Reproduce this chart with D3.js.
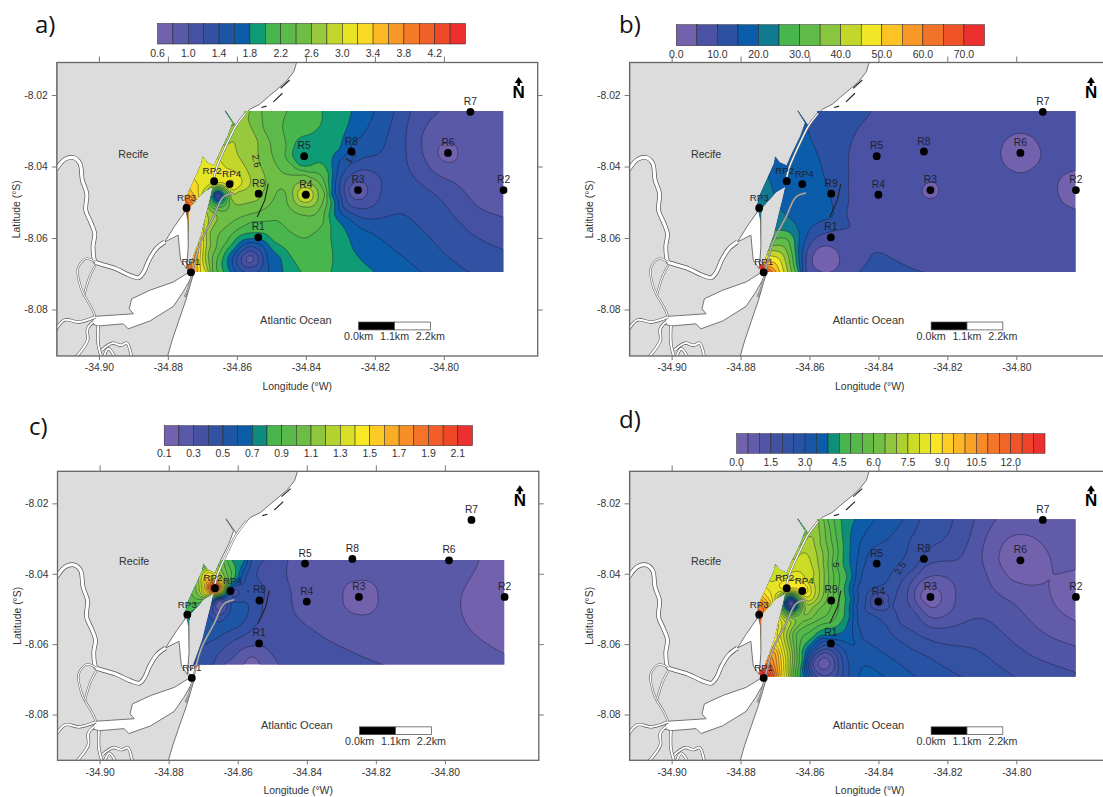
<!DOCTYPE html>
<html>
<head>
<meta charset="utf-8">
<script src="https://cdn.jsdelivr.net/npm/d3@7"></script>
<style>
  html, body { margin: 0; padding: 0; background: #fff; }
  svg { display: block; }
  text { font-family: "Liberation Sans", Arial, sans-serif; fill: #333; }
</style>
</head>
<body>
<div id="chart"></div>
<script>
'use strict';

// axis ticks
const lonTicks = [-34.90, -34.88, -34.86, -34.84, -34.82, -34.80];
const latTicks = [-8.02, -8.04, -8.06, -8.08];

// sampling stations
const stationNames = ['R1', 'R2', 'R3', 'R4', 'R5', 'R6', 'R7', 'R8', 'R9', 'RP1', 'RP2', 'RP3', 'RP4'];
const stationLon = [-34.8538, -34.7827, -34.8249, -34.8400, -34.8405, -34.7988, -34.7923, -34.8268, -34.8537, -34.8733, -34.8666, -34.8746, -34.8621];
const stationLat = [-8.0598, -8.0466, -8.0466, -8.0479, -8.0371, -8.0362, -8.0247, -8.0358, -8.0476, -8.0696, -8.0441, -8.0516, -8.0449];

// base map, lon/lat
const landOutline = [[-34.9122,-8.0109],[-34.8427,-8.0109],[-34.8435,-8.0135],[-34.8458,-8.0163],[-34.8483,-8.0184],[-34.8509,-8.0205],[-34.8534,-8.0226],[-34.8563,-8.0240],[-34.8578,-8.0256],[-34.8595,-8.0275],[-34.8603,-8.0287],[-34.8634,-8.0244],[-34.8612,-8.0278],[-34.8626,-8.0315],[-34.8651,-8.0365],[-34.8666,-8.0398],[-34.8687,-8.0389],[-34.8699,-8.0373],[-34.8702,-8.0391],[-34.8715,-8.0419],[-34.8733,-8.0457],[-34.8746,-8.0485],[-34.8753,-8.0518],[-34.8744,-8.0681],[-34.8726,-8.0700],[-34.8748,-8.0774],[-34.8768,-8.0830],[-34.8788,-8.0887],[-34.8801,-8.0931],[-34.9122,-8.0931]];
const islandOutline = [[-34.8669,-8.0455],[-34.8697,-8.0471],[-34.8736,-8.0513],[-34.8741,-8.0532],[-34.8742,-8.0620],[-34.8745,-8.0662],[-34.8734,-8.0674],[-34.8726,-8.0653],[-34.8702,-8.0588],[-34.8688,-8.0532],[-34.8676,-8.0485]];
const estuaryUpper = [[-34.8748,-8.0522],[-34.8782,-8.0569],[-34.8809,-8.0611],[-34.8770,-8.0592],[-34.8767,-8.0625],[-34.8763,-8.0662],[-34.8746,-8.0686],[-34.8741,-8.0625],[-34.8742,-8.0550]];
const estuaryLower = [[-34.8726,-8.0700],[-34.8746,-8.0700],[-34.8784,-8.0723],[-34.8852,-8.0746],[-34.8905,-8.0770],[-34.8912,-8.0798],[-34.8900,-8.0812],[-34.9011,-8.0819],[-34.9023,-8.0840],[-34.9002,-8.0846],[-34.8929,-8.0840],[-34.8915,-8.0854],[-34.8852,-8.0832],[-34.8784,-8.0791],[-34.8756,-8.0751]];
const riverMain = [[-34.8809,-8.0611],[-34.8834,-8.0630],[-34.8855,-8.0662],[-34.8870,-8.0695],[-34.8885,-8.0711],[-34.8911,-8.0704],[-34.8951,-8.0686],[-34.8997,-8.0672],[-34.9010,-8.0667],[-34.9017,-8.0625],[-34.9012,-8.0588],[-34.9024,-8.0555],[-34.9038,-8.0522],[-34.9035,-8.0476],[-34.9048,-8.0438],[-34.9055,-8.0391],[-34.9073,-8.0375],[-34.9099,-8.0380],[-34.9125,-8.0410]];
const riverSide = [
  [[-34.9010,-8.0676],[-34.9027,-8.0709],[-34.9043,-8.0760]],
  [[-34.9010,-8.0667],[-34.9038,-8.0658],[-34.9061,-8.0686],[-34.9053,-8.0737],[-34.9043,-8.0760]],
  [[-34.9043,-8.0760],[-34.9020,-8.0798],[-34.9011,-8.0819]]
];
const riverLower = [
  [[-34.9011,-8.0821],[-34.9058,-8.0835],[-34.9099,-8.0829],[-34.9125,-8.0856]],
  [[-34.9017,-8.0835],[-34.9033,-8.0854],[-34.9033,-8.0887],[-34.9068,-8.0935]],
  [[-34.9002,-8.0846],[-34.9002,-8.0896],[-34.8992,-8.0935]],
  [[-34.8992,-8.0914],[-34.8961,-8.0894],[-34.8936,-8.0900],[-34.8919,-8.0894],[-34.8905,-8.0935]],
  [[-34.8987,-8.0935],[-34.8972,-8.0910],[-34.8953,-8.0935]]
];
const isthmusLine = [[-34.8575,-8.0251],[-34.8603,-8.0287],[-34.8626,-8.0331],[-34.8646,-8.0373],[-34.8658,-8.0401],[-34.8666,-8.0429]];
const reefLine = [[-34.8610,-8.0474],[-34.8639,-8.0485],[-34.8668,-8.0541],[-34.8707,-8.0616],[-34.8741,-8.0742],[-34.8751,-8.0765]];
const breakwaters = [
  [[-34.8447,-8.0158],[-34.8473,-8.0181]],
  [[-34.8468,-8.0195],[-34.8494,-8.0219]],
  [[-34.8514,-8.0231],[-34.8529,-8.0235]],
  [[-34.8509,-8.0448],[-34.8519,-8.0494],[-34.8541,-8.0541]]
];
const waterOutline = [[-34.8577,-8.0240],[-34.7800,-8.0240],[-34.7800,-8.0710],[-34.8738,-8.0710],[-34.8747,-8.0672],[-34.8734,-8.0674],[-34.8726,-8.0653],[-34.8702,-8.0588],[-34.8688,-8.0532],[-34.8676,-8.0485],[-34.8669,-8.0455],[-34.8697,-8.0471],[-34.8736,-8.0513],[-34.8741,-8.0532],[-34.8742,-8.0620],[-34.8748,-8.0620],[-34.8750,-8.0532],[-34.8753,-8.0518],[-34.8746,-8.0485],[-34.8733,-8.0457],[-34.8715,-8.0419],[-34.8702,-8.0391],[-34.8699,-8.0373],[-34.8687,-8.0389],[-34.8666,-8.0398],[-34.8651,-8.0365],[-34.8626,-8.0315],[-34.8612,-8.0278],[-34.8634,-8.0244],[-34.8603,-8.0287],[-34.8595,-8.0275],[-34.8578,-8.0256]];

// colour bars
const legendMinA = 0.6, legendStepA = 0.2, legendCellsA = 20, legendBlueA = 6;
const legendTicksA = [0.6, 1.0, 1.4, 1.8, 2.2, 2.6, 3.0, 3.4, 3.8, 4.2];
const legendMinB = 0, legendStepB = 5, legendCellsB = 15, legendBlueB = 4;
const legendTicksB = [0, 10, 20, 30, 40, 50, 60, 70];
const legendMinC = 0.1, legendStepC = 0.1, legendCellsC = 21, legendBlueC = 6;
const legendTicksC = [0.1, 0.3, 0.5, 0.7, 0.9, 1.1, 1.3, 1.5, 1.7, 1.9, 2.1];
const legendMinD = 0, legendStepD = 0.5, legendCellsD = 27, legendBlueD = 8;
const legendTicksD = [0, 1.5, 3, 4.5, 6, 7.5, 9, 10.5, 12];

// field samples [lon, lat, value], read along the contour lines of each map
const fieldA = [
[-34.8577,-8.0245,2.65],[-34.8528,-8.0245,2.4],[-34.8455,-8.0245,2.2],[-34.8353,-8.0245,2.0],[-34.8268,-8.0245,1.8],[-34.8202,-8.0245,1.6],[-34.8144,-8.0245,1.4],[-34.8096,-8.0245,1.2],[-34.8012,-8.0245,1.0],[-34.7924,-8.0245,0.92],[-34.7830,-8.0245,0.88],
[-34.7830,-8.0354,0.85],[-34.7830,-8.0466,0.85],[-34.7830,-8.0541,1.0],[-34.7830,-8.0632,1.2],[-34.7830,-8.0695,1.33],
[-34.7988,-8.0362,0.72],[-34.8017,-8.0362,0.8],[-34.7960,-8.0362,0.8],[-34.7988,-8.0335,0.8],[-34.7988,-8.0388,0.8],
[-34.8062,-8.0312,1.0],[-34.8051,-8.0387,1.0],[-34.7974,-8.0443,1.0],[-34.7907,-8.0508,1.0],
[-34.8110,-8.0350,1.2],[-34.8101,-8.0406,1.2],[-34.8023,-8.0480,1.2],[-34.7955,-8.0555,1.2],[-34.7857,-8.0621,1.2],
[-34.8163,-8.0312,1.4],[-34.8197,-8.0368,1.4],[-34.8255,-8.0387,1.4],[-34.8289,-8.0415,1.4],[-34.8302,-8.0457,1.4],[-34.8294,-8.0508,1.4],[-34.8245,-8.0541,1.4],[-34.8135,-8.0532,1.4],[-34.8081,-8.0560,1.4],[-34.8003,-8.0639,1.4],[-34.7926,-8.0695,1.4],
[-34.8217,-8.0284,1.6],[-34.8270,-8.0345,1.6],[-34.8303,-8.0387,1.6],[-34.8314,-8.0443,1.6],[-34.8306,-8.0494,1.6],[-34.8275,-8.0546,1.6],[-34.8217,-8.0583,1.6],[-34.8148,-8.0630,1.6],[-34.8066,-8.0695,1.6],
[-34.8303,-8.0350,1.8],[-34.8323,-8.0415,1.8],[-34.8325,-8.0480,1.8],[-34.8303,-8.0555,1.8],[-34.8264,-8.0630,1.8],[-34.8202,-8.0695,1.8],
[-34.8250,-8.0466,0.88],[-34.8275,-8.0466,1.0],[-34.8221,-8.0466,1.0],[-34.8250,-8.0443,1.0],[-34.8250,-8.0492,1.0],[-34.8289,-8.0466,1.2],[-34.8182,-8.0466,1.2],[-34.8241,-8.0410,1.2],[-34.8241,-8.0518,1.2],
[-34.8358,-8.0284,2.0],[-34.8394,-8.0312,2.0],[-34.8429,-8.0331,2.0],[-34.8439,-8.0368,2.0],[-34.8419,-8.0396,2.0],[-34.8368,-8.0390,2.0],[-34.8348,-8.0396,2.0],[-34.8335,-8.0420,2.0],[-34.8328,-8.0494,2.0],[-34.8328,-8.0588,2.0],[-34.8328,-8.0695,2.0],[-34.8407,-8.0371,1.82],
[-34.8310,-8.0290,1.9],[-34.8345,-8.0345,1.9],[-34.8420,-8.0350,1.9],[-34.8380,-8.0370,1.9],[-34.8370,-8.0340,1.9],[-34.8327,-8.0540,1.92],[-34.8290,-8.0650,1.9],
[-34.8467,-8.0293,2.2],[-34.8457,-8.0345,2.2],[-34.8439,-8.0396,2.2],[-34.8394,-8.0415,2.2],[-34.8353,-8.0429,2.2],[-34.8339,-8.0485,2.2],[-34.8348,-8.0551,2.2],[-34.8373,-8.0583,2.2],[-34.8414,-8.0599,2.2],[-34.8485,-8.0551,2.2],[-34.8556,-8.0555,2.2],[-34.8602,-8.0579,2.2],[-34.8633,-8.0616,2.2],[-34.8656,-8.0695,2.2],
[-34.8521,-8.0298,2.4],[-34.8500,-8.0359,2.4],[-34.8475,-8.0410,2.4],[-34.8480,-8.0466,2.4],[-34.8506,-8.0508,2.4],[-34.8556,-8.0532,2.4],[-34.8607,-8.0551,2.4],[-34.8643,-8.0579,2.4],[-34.8663,-8.0635,2.4],[-34.8670,-8.0695,2.4],
[-34.8402,-8.0479,3.1],[-34.8424,-8.0479,2.8],[-34.8379,-8.0479,2.8],[-34.8402,-8.0459,2.8],[-34.8402,-8.0500,2.8],[-34.8438,-8.0479,2.6],[-34.8365,-8.0479,2.6],[-34.8402,-8.0446,2.6],[-34.8402,-8.0513,2.6],[-34.8457,-8.0479,2.4],[-34.8345,-8.0479,2.4],[-34.8402,-8.0424,2.4],[-34.8402,-8.0537,2.4],
[-34.8566,-8.0256,2.6],[-34.8541,-8.0326,2.6],[-34.8536,-8.0382,2.6],[-34.8516,-8.0448,2.6],[-34.8541,-8.0494,2.6],[-34.8582,-8.0505,2.6],[-34.8617,-8.0487,2.6],[-34.8663,-8.0532,2.6],[-34.8678,-8.0588,2.6],[-34.8683,-8.0644,2.6],[-34.8678,-8.0695,2.6],
[-34.8617,-8.0307,2.75],[-34.8638,-8.0340,2.8],[-34.8597,-8.0368,2.8],[-34.8566,-8.0420,2.8],[-34.8566,-8.0457,2.8],[-34.8597,-8.0471,2.8],
[-34.8627,-8.0406,3.0],[-34.8597,-8.0420,3.0],[-34.8589,-8.0452,3.0],[-34.8612,-8.0466,3.0],[-34.8622,-8.0450,3.15],
[-34.8656,-8.0478,1.0],[-34.8648,-8.0478,1.4],[-34.8640,-8.0478,1.8],[-34.8629,-8.0478,2.2],[-34.8656,-8.0489,1.4],[-34.8656,-8.0500,1.8],[-34.8656,-8.0513,2.2],[-34.8662,-8.0478,1.4],[-34.8668,-8.0478,1.8],[-34.8676,-8.0478,2.2],[-34.8686,-8.0478,2.6],[-34.8656,-8.0469,1.8],[-34.8656,-8.0462,2.2],[-34.8656,-8.0452,2.8],
[-34.8667,-8.0441,3.1],[-34.8650,-8.0436,3.1],[-34.8640,-8.0425,3.1],[-34.8695,-8.0450,3.15],[-34.8700,-8.0415,3.1],[-34.8720,-8.0440,3.2],
[-34.8687,-8.0532,2.8],[-34.8697,-8.0588,3.0],[-34.8709,-8.0644,3.3],[-34.8724,-8.0672,3.6],
[-34.8683,-8.0695,2.8],[-34.8689,-8.0695,3.0],[-34.8706,-8.0695,3.2],[-34.8713,-8.0695,3.4],[-34.8724,-8.0695,3.6],[-34.8733,-8.0695,3.8],
[-34.8687,-8.0401,3.1],[-34.8678,-8.0429,3.1],[-34.8709,-8.0438,3.15],[-34.8724,-8.0466,3.3],[-34.8739,-8.0480,3.6],[-34.8733,-8.0504,3.9],[-34.8748,-8.0513,4.2],[-34.8746,-8.0569,4.3],[-34.8745,-8.0616,4.4],
[-34.8636,-8.0250,2.2],[-34.8610,-8.0277,2.55],[-34.8666,-8.0382,3.05],
[-34.8562,-8.0660,0.9],[-34.8587,-8.0660,1.2],[-34.8538,-8.0660,1.2],[-34.8562,-8.0637,1.2],[-34.8562,-8.0682,1.2],[-34.8601,-8.0660,1.4],[-34.8524,-8.0660,1.4],[-34.8562,-8.0624,1.4],[-34.8613,-8.0660,1.6],[-34.8512,-8.0660,1.6],[-34.8562,-8.0613,1.6],
[-34.8467,-8.0695,1.8],[-34.8475,-8.0653,1.8],[-34.8516,-8.0611,1.8],[-34.8561,-8.0602,1.8],[-34.8607,-8.0630,1.8],[-34.8619,-8.0695,1.8],
[-34.8414,-8.0695,2.0],[-34.8445,-8.0649,2.0],[-34.8495,-8.0607,2.0],[-34.8546,-8.0585,2.0],[-34.8597,-8.0597,2.0],[-34.8627,-8.0630,2.0],[-34.8638,-8.0695,2.0],[-34.8373,-8.0663,2.12]
];
const fieldB = [
[-34.8272,-8.0260,7],[-34.8069,-8.0260,7],[-34.7790,-8.0260,7],[-34.8170,-8.0597,7.5],[-34.7970,-8.0660,7.5],[-34.7790,-8.0660,7],[-34.8069,-8.0466,7],[-34.7790,-8.0345,7],[-34.8310,-8.0401,7],[-34.8320,-8.0541,7],
[-34.7988,-8.0362,4],[-34.8045,-8.0362,5],[-34.7928,-8.0362,5],[-34.7988,-8.0307,5],[-34.7988,-8.0418,5],
[-34.7948,-8.0323,5],[-34.8028,-8.0323,5],[-34.7948,-8.0401,5],[-34.8028,-8.0401,5],
[-34.8073,-8.0362,6.3],[-34.7903,-8.0362,6.3],[-34.7988,-8.0280,6.3],[-34.7988,-8.0445,6.3],
[-34.8249,-8.0466,4.6],[-34.8273,-8.0466,5],[-34.8225,-8.0466,5],[-34.8249,-8.0444,5],[-34.8249,-8.0489,5],
[-34.7830,-8.0466,4],[-34.7880,-8.0461,5],[-34.7855,-8.0420,5],[-34.7855,-8.0508,5],[-34.7830,-8.0411,5],[-34.7830,-8.0518,5],
[-34.8552,-8.0660,4],[-34.8592,-8.0660,5],[-34.8512,-8.0660,5],[-34.8552,-8.0622,5],[-34.8552,-8.0697,5],
[-34.8524,-8.0633,5],[-34.8580,-8.0633,5],[-34.8524,-8.0687,5],[-34.8580,-8.0687,5],
[-34.8421,-8.0245,10],[-34.8467,-8.0307,10],[-34.8487,-8.0373,10],[-34.8487,-8.0457,10],[-34.8492,-8.0532,10],[-34.8484,-8.0569,10],[-34.8522,-8.0579,10],[-34.8577,-8.0597,10],[-34.8602,-8.0625,10],[-34.8610,-8.0663,10],[-34.8607,-8.0695,10],
[-34.8455,-8.0695,10],[-34.8416,-8.0644,10],[-34.8361,-8.0657,10],[-34.8271,-8.0695,10],[-34.8391,-8.0690,11],
[-34.8607,-8.0289,15],[-34.8577,-8.0364,15],[-34.8547,-8.0457,15],[-34.8532,-8.0537,15],[-34.8597,-8.0574,15],[-34.8619,-8.0625,15],[-34.8620,-8.0695,15],
[-34.8522,-8.0250,12],[-34.8572,-8.0250,14],
[-34.8687,-8.0513,20],[-34.8642,-8.0560,20],[-34.8630,-8.0616,20],[-34.8626,-8.0695,20],
[-34.8622,-8.0401,17],[-34.8672,-8.0457,18],[-34.8697,-8.0373,17],[-34.8632,-8.0298,17],
[-34.8732,-8.0457,22],[-34.8744,-8.0532,24],[-34.8744,-8.0569,27],[-34.8743,-8.0597,32],[-34.8742,-8.0621,38],
[-34.8690,-8.0579,25],[-34.8662,-8.0583,25],[-34.8642,-8.0635,25],[-34.8632,-8.0695,25],
[-34.8697,-8.0602,30],[-34.8667,-8.0602,30],[-34.8650,-8.0649,30],[-34.8641,-8.0695,30],
[-34.8704,-8.0621,35],[-34.8674,-8.0625,35],[-34.8652,-8.0695,35],
[-34.8710,-8.0635,40],[-34.8682,-8.0642,40],[-34.8663,-8.0695,40],
[-34.8716,-8.0649,45],[-34.8692,-8.0655,45],[-34.8674,-8.0695,45],
[-34.8722,-8.0663,50],[-34.8702,-8.0668,50],[-34.8686,-8.0695,50],
[-34.8722,-8.0677,55],[-34.8697,-8.0695,55],
[-34.8730,-8.0677,60],[-34.8708,-8.0695,60],
[-34.8719,-8.0695,66],[-34.8730,-8.0695,70],[-34.8742,-8.0681,74]
];
const fieldC = [
[-34.8250,-8.0465,0.14],[-34.8295,-8.0465,0.2],[-34.8194,-8.0465,0.2],[-34.8250,-8.0420,0.2],[-34.8250,-8.0516,0.2],
[-34.7901,-8.0361,0.2],[-34.7952,-8.0464,0.2],[-34.7927,-8.0558,0.2],[-34.7830,-8.0626,0.2],[-34.7830,-8.0464,0.13],[-34.7845,-8.0361,0.15],
[-34.8454,-8.0361,0.3],[-34.8445,-8.0455,0.3],[-34.8435,-8.0511,0.3],[-34.8384,-8.0558,0.3],[-34.8283,-8.0615,0.3],[-34.8181,-8.0658,0.3],
[-34.8323,-8.0361,0.25],[-34.8069,-8.0361,0.24],[-34.8069,-8.0521,0.24],[-34.8374,-8.0455,0.24],[-34.8018,-8.0653,0.27],[-34.7830,-8.0658,0.22],
[-34.8481,-8.0658,0.3],[-34.8506,-8.0624,0.3],[-34.8559,-8.0606,0.3],[-34.8613,-8.0639,0.3],[-34.8639,-8.0658,0.3],
[-34.8583,-8.0658,0.2],[-34.8559,-8.0636,0.2],[-34.8535,-8.0658,0.2],[-34.8559,-8.0658,0.17],
[-34.8522,-8.0361,0.4],[-34.8525,-8.0441,0.4],[-34.8528,-8.0488,0.4],[-34.8555,-8.0554,0.4],[-34.8613,-8.0591,0.4],[-34.8671,-8.0657,0.4],[-34.8486,-8.0568,0.34],
[-34.8560,-8.0361,0.5],[-34.8575,-8.0403,0.5],[-34.8620,-8.0448,0.45],[-34.8575,-8.0448,0.5],[-34.8620,-8.0483,0.5],
[-34.8628,-8.0521,0.52],[-34.8669,-8.0549,0.55],[-34.8700,-8.0606,0.5],[-34.8715,-8.0653,0.48],[-34.8674,-8.0483,0.55],[-34.8657,-8.0474,0.38],
[-34.8667,-8.0441,2.15],[-34.8654,-8.0450,1.6],[-34.8644,-8.0459,0.9],[-34.8639,-8.0436,1.3],[-34.8651,-8.0412,1.3],
[-34.8618,-8.0361,0.8],[-34.8580,-8.0361,0.7],[-34.8572,-8.0361,0.6],[-34.8644,-8.0361,1.0],[-34.8608,-8.0408,0.8],[-34.8628,-8.0422,1.0],
[-34.8679,-8.0422,1.7],[-34.8689,-8.0398,1.4],[-34.8700,-8.0375,1.0],[-34.8705,-8.0436,1.3],[-34.8725,-8.0469,1.0],[-34.8739,-8.0497,0.85],[-34.8742,-8.0549,0.7],[-34.8744,-8.0610,0.6]
];
const fieldD = [
[-34.7987,-8.0361,0.3],[-34.8050,-8.0361,0.5],[-34.8019,-8.0413,0.5],[-34.7971,-8.0431,0.5],[-34.7908,-8.0417,0.5],[-34.7894,-8.0398,0.5],[-34.7913,-8.0332,0.5],[-34.7971,-8.0290,0.5],[-34.8029,-8.0304,0.5],[-34.7826,-8.0387,0.5],[-34.7884,-8.0493,0.5],[-34.7826,-8.0535,0.5],[-34.7826,-8.0464,0.3],
[-34.7826,-8.0245,0.75],[-34.7923,-8.0245,0.7],
[-34.8058,-8.0245,1.0],[-34.8096,-8.0323,1.0],[-34.8087,-8.0398,1.0],[-34.8010,-8.0483,1.0],[-34.7932,-8.0559,1.0],[-34.7826,-8.0606,1.0],
[-34.8121,-8.0245,1.5],[-34.8135,-8.0295,1.5],[-34.8174,-8.0361,1.5],[-34.8270,-8.0384,1.5],[-34.8314,-8.0446,1.5],[-34.8290,-8.0512,1.5],[-34.8212,-8.0554,1.5],[-34.8111,-8.0526,1.5],[-34.8039,-8.0568,1.5],[-34.7952,-8.0634,1.5],[-34.7826,-8.0682,1.5],
[-34.8249,-8.0464,0.3],[-34.8278,-8.0464,0.5],[-34.8217,-8.0464,0.5],[-34.8249,-8.0436,0.5],[-34.8249,-8.0495,0.5],[-34.8295,-8.0464,1.0],[-34.8176,-8.0464,1.0],[-34.8249,-8.0408,1.0],[-34.8249,-8.0523,1.0],
[-34.8183,-8.0245,2.0],[-34.8212,-8.0304,2.0],[-34.8290,-8.0379,2.0],[-34.8338,-8.0431,2.0],[-34.8357,-8.0483,2.0],[-34.8338,-8.0540,2.0],[-34.8222,-8.0597,2.0],[-34.8116,-8.0615,2.0],[-34.8005,-8.0691,2.0],
[-34.8280,-8.0245,2.5],[-34.8308,-8.0304,2.5],[-34.8347,-8.0379,2.5],[-34.8386,-8.0431,2.5],[-34.8419,-8.0446,2.5],[-34.8436,-8.0479,2.5],[-34.8419,-8.0516,2.5],[-34.8376,-8.0549,2.5],[-34.8337,-8.0592,2.5],[-34.8260,-8.0634,2.5],[-34.8163,-8.0691,2.5],
[-34.8398,-8.0479,1.2],[-34.8412,-8.0479,1.5],[-34.8385,-8.0479,1.5],[-34.8398,-8.0465,1.5],[-34.8398,-8.0492,1.5],[-34.8423,-8.0479,2.0],[-34.8373,-8.0479,2.0],[-34.8398,-8.0454,2.0],[-34.8398,-8.0503,2.0],
[-34.8328,-8.0245,3.0],[-34.8376,-8.0304,3.0],[-34.8429,-8.0342,3.0],[-34.8448,-8.0398,3.0],[-34.8461,-8.0446,3.0],[-34.8463,-8.0493,3.0],[-34.8461,-8.0531,3.0],[-34.8446,-8.0582,3.0],[-34.8386,-8.0625,3.0],[-34.8294,-8.0691,3.0],
[-34.8410,-8.0245,3.5],[-34.8442,-8.0290,3.5],[-34.8458,-8.0342,3.5],[-34.8466,-8.0408,3.5],[-34.8471,-8.0474,3.5],[-34.8474,-8.0531,3.5],[-34.8468,-8.0597,3.5],[-34.8458,-8.0691,3.5],
[-34.8468,-8.0245,4.0],[-34.8482,-8.0313,4.0],[-34.8477,-8.0408,4.0],[-34.8480,-8.0474,4.0],[-34.8484,-8.0521,4.0],[-34.8497,-8.0559,4.0],[-34.8550,-8.0576,4.0],[-34.8593,-8.0597,4.0],[-34.8613,-8.0634,4.0],[-34.8617,-8.0691,4.0],
[-34.8508,-8.0245,4.5],[-34.8506,-8.0276,4.5],[-34.8502,-8.0342,4.5],[-34.8492,-8.0408,4.5],[-34.8497,-8.0483,4.5],[-34.8511,-8.0540,4.5],[-34.8550,-8.0554,4.5],[-34.8593,-8.0582,4.5],[-34.8622,-8.0625,4.5],[-34.8627,-8.0691,4.5],
[-34.8558,-8.0655,0.8],[-34.8575,-8.0655,1.0],[-34.8540,-8.0655,1.0],[-34.8558,-8.0638,1.0],[-34.8558,-8.0672,1.0],[-34.8589,-8.0655,1.5],[-34.8527,-8.0655,1.5],[-34.8558,-8.0625,1.5],[-34.8596,-8.0655,2.0],[-34.8517,-8.0655,2.0],[-34.8558,-8.0615,2.0],[-34.8603,-8.0655,2.5],[-34.8504,-8.0655,2.5],[-34.8558,-8.0604,2.5],[-34.8608,-8.0655,3.0],[-34.8558,-8.0592,3.0],[-34.8487,-8.0655,3.0],[-34.8612,-8.0655,3.5],[-34.8558,-8.0583,3.5],
[-34.8635,-8.0691,5],[-34.8646,-8.0691,6],[-34.8656,-8.0691,7],[-34.8666,-8.0691,8],[-34.8680,-8.0691,9],[-34.8690,-8.0691,10],[-34.8700,-8.0691,11],[-34.8709,-8.0691,12],[-34.8724,-8.0691,13],[-34.8730,-8.0691,13.3],
[-34.8637,-8.0625,5.5],[-34.8656,-8.0625,7],[-34.8680,-8.0625,8.5],[-34.8700,-8.0625,10],
[-34.8637,-8.0568,5.5],[-34.8675,-8.0568,7.5],[-34.8690,-8.0592,8.5],[-34.8719,-8.0663,11.5],
[-34.8559,-8.0245,6.0],[-34.8548,-8.0245,5.5],[-34.8529,-8.0245,5.0],[-34.8574,-8.0247,6.5],
[-34.8521,-8.0304,5],[-34.8521,-8.0375,5],[-34.8516,-8.0446,5],[-34.8523,-8.0521,5],[-34.8545,-8.0540,5],[-34.8598,-8.0564,5],[-34.8622,-8.0582,5],
[-34.8531,-8.0332,5.5],[-34.8531,-8.0455,5.5],[-34.8555,-8.0521,5.5],[-34.8603,-8.0545,5.5],
[-34.8545,-8.0342,6],[-34.8545,-8.0436,6],[-34.8574,-8.0502,6],[-34.8617,-8.0535,6],
[-34.8569,-8.0313,6.5],[-34.8558,-8.0389,6.5],[-34.8558,-8.0446,6.5],[-34.8588,-8.0493,6.5],[-34.8617,-8.0512,6.5],
[-34.8603,-8.0295,7],[-34.8574,-8.0379,7],[-34.8571,-8.0446,7],[-34.8603,-8.0488,7],
[-34.8622,-8.0342,7.5],[-34.8587,-8.0398,7.5],[-34.8583,-8.0446,7.5],[-34.8608,-8.0476,7.5],
[-34.8608,-8.0422,8],[-34.8596,-8.0446,8],[-34.8613,-8.0464,8],[-34.8617,-8.0446,9],[-34.8666,-8.0439,9],[-34.8656,-8.0422,8.6],
[-34.8654,-8.0485,1.0],[-34.8644,-8.0485,2],[-34.8635,-8.0485,4],[-34.8625,-8.0485,5.5],[-34.8654,-8.0506,4],[-34.8654,-8.0519,6],[-34.8654,-8.0535,7],[-34.8675,-8.0485,4.5],[-34.8683,-8.0485,6],[-34.8690,-8.0493,7],[-34.8654,-8.0463,4.5],[-34.8654,-8.0455,6.5],
[-34.8685,-8.0389,7.8],[-34.8675,-8.0408,8],[-34.8704,-8.0422,8],[-34.8724,-8.0441,8.5],[-34.8733,-8.0469,9.5],[-34.8735,-8.0497,11],[-34.8743,-8.0521,11.5],[-34.8745,-8.0559,11],[-34.8743,-8.0597,9],
[-34.8637,-8.0247,5.5],[-34.8619,-8.0280,6],[-34.8642,-8.0332,7],[-34.8695,-8.0375,7.5]
];

// contour labels [text, lon, lat, rotation]
const contourLabelsA = [['2.6', -34.8543, -8.0384, 80], ['1.6', -34.8270, -8.0373, -55]];
const contourLabelsD = [['5', -34.8523, -8.0375, 90], ['2.5', -34.8337, -8.0384, -60]];

const lonDomain = [-34.9122, -34.7728];
const latDomain = [-8.0930, -8.0109];

const panels = [
  {id: 'a', letter: 'a)', letterX: 35, letterY: 33, left: 56.8, right: 537.7, top: 62.5, bottom: 356,
   field: fieldA, min: legendMinA, step: legendStepA, cells: legendCellsA, blue: legendBlueA, legendTicks: legendTicksA,
   tealColor: '#0f9b73', fmt: '.1f', bar: [157.5, 465.5, 23.5, 44], barLabelY: 56.5,
   rectTop: -8.0245, rectBottom: -8.0695, labels: contourLabelsA},
  {id: 'b', letter: 'b)', letterX: 619, letterY: 33, left: 629.6, right: 1110, top: 62.5, bottom: 356,
   field: fieldB, min: legendMinB, step: legendStepB, cells: legendCellsB, blue: legendBlueB, legendTicks: legendTicksB,
   tealColor: '#0f7a90', fmt: '.1f', bar: [676.3, 984.5, 24.7, 45.7], barLabelY: 58,
   rectTop: -8.0245, rectBottom: -8.0695, labels: []},
  {id: 'c', letter: 'c)', letterX: 29, letterY: 435, left: 57.5, right: 538.8, top: 471.3, bottom: 760.3,
   field: fieldC, min: legendMinC, step: legendStepC, cells: legendCellsC, blue: legendBlueC, legendTicks: legendTicksC,
   tealColor: '#0f8a80', fmt: '.1f', bar: [164.2, 472.5, 425.7, 445.7], barLabelY: 457,
   rectTop: -8.0361, rectBottom: -8.0658, labels: []},
  {id: 'd', letter: 'd)', letterX: 619, letterY: 428, left: 629.6, right: 1110, top: 471.3, bottom: 760.3,
   field: fieldD, min: legendMinD, step: legendStepD, cells: legendCellsD, blue: legendBlueD, legendTicks: legendTicksD,
   tealColor: '#0f8f78', fmt: '.1f', bar: [736.6, 1045, 433.7, 453.3], barLabelY: 466,
   rectTop: -8.0245, rectBottom: -8.0692, labels: contourLabelsD}
];

const blueStops = d3.scaleLinear().domain([0, 0.34, 0.67, 1])
  .range(['#7262ad', '#4a52a3', '#2c51a2', '#0b5ca9']);
const warmStops = d3.scaleLinear().domain([0, 0.17, 0.25, 0.36, 0.46, 0.58, 0.75, 0.9, 1])
  .range(['#48b64d', '#6fbe45', '#98c93c', '#cfdc24', '#f9e926', '#fdb925', '#f47a29', '#ef4f27', '#ec3030']);

function cellColor(p, i) {
  if (i < p.blue) return blueStops(i / (p.blue - 1));
  if (i === p.blue) return p.tealColor;
  return warmStops((i - p.blue - 1) / (p.cells - p.blue - 2));
}

// thin plate spline through the samples, this is the gridding step of the map
function fitSurface(points) {
  const n = points.length, size = n + 3;
  const u = lon => (lon + 34.83) * 100;
  const v = lat => (lat + 8.05) * 103.5;
  const kernel = r2 => r2 > 1e-12 ? 0.5 * r2 * Math.log(r2) : 0;
  const xs = points.map(d => u(d[0])), ys = points.map(d => v(d[1]));
  const A = [];
  for (let i = 0; i < size; i++) A.push(new Float64Array(size + 1));
  for (let i = 0; i < n; i++) {
    for (let j = 0; j < n; j++) {
      const dx = xs[i] - xs[j], dy = ys[i] - ys[j];
      A[i][j] = kernel(dx * dx + dy * dy);
    }
    A[i][i] = 0.001;
    A[i][n] = 1; A[i][n + 1] = xs[i]; A[i][n + 2] = ys[i];
    A[n][i] = 1; A[n + 1][i] = xs[i]; A[n + 2][i] = ys[i];
    A[i][size] = points[i][2];
  }
  for (let c = 0; c < size; c++) {
    let best = c;
    for (let r = c + 1; r < size; r++) if (Math.abs(A[r][c]) > Math.abs(A[best][c])) best = r;
    const tmp = A[c]; A[c] = A[best]; A[best] = tmp;
    for (let r = c + 1; r < size; r++) {
      const f = A[r][c] / A[c][c];
      if (f === 0) continue;
      for (let k = c; k <= size; k++) A[r][k] -= f * A[c][k];
    }
  }
  const w = new Float64Array(size);
  for (let r = size - 1; r >= 0; r--) {
    let s = A[r][size];
    for (let k = r + 1; k < size; k++) s -= A[r][k] * w[k];
    w[r] = s / A[r][r];
  }
  return function(lon, lat) {
    const x = u(lon), y = v(lat);
    let s = w[n] + w[n + 1] * x + w[n + 2] * y;
    for (let i = 0; i < n; i++) {
      const dx = x - xs[i], dy = y - ys[i];
      s += w[i] * kernel(dx * dx + dy * dy);
    }
    return s;
  };
}

const svg = d3.select('#chart').append('svg').attr('width', 1103).attr('height', 797);

function drawPanel(p) {
  const x = d3.scaleLinear().domain(lonDomain).range([p.left, p.right]);
  const y = d3.scaleLinear().domain(latDomain).range([p.bottom, p.top]);
  const g = svg.append('g');
  const toPts = arr => arr.map(d => [x(d[0]), y(d[1])].join(',')).join(' ');
  const curve = d3.line().x(d => x(d[0])).y(d => y(d[1])).curve(d3.curveCatmullRom.alpha(0.5));
  const polyline = d3.line().x(d => x(d[0])).y(d => y(d[1]));

  const defs = g.append('defs');
  defs.append('clipPath').attr('id', 'frame-' + p.id).append('rect')
    .attr('x', p.left).attr('y', p.top).attr('width', p.right - p.left).attr('height', p.bottom - p.top);
  defs.append('clipPath').attr('id', 'rect-' + p.id).append('rect')
    .attr('x', p.left).attr('y', y(p.rectTop))
    .attr('width', x(-34.7828) - p.left).attr('height', y(p.rectBottom) - y(p.rectTop));
  defs.append('clipPath').attr('id', 'water-' + p.id).append('polygon').attr('points', toPts(waterOutline));

  const map = g.append('g').attr('clip-path', 'url(#frame-' + p.id + ')');
  map.append('polygon').attr('points', toPts(landOutline))
    .attr('fill', '#dcdcdc').attr('stroke', '#555').attr('stroke-width', 0.8);
  map.append('polygon').attr('points', toPts(islandOutline))
    .attr('fill', '#dcdcdc').attr('stroke', '#555').attr('stroke-width', 0.6);

  // filled contours
  const lon0 = -34.879, lat0 = -8.022, dLon = 0.0005, dLat = 0.0005;
  const cols = 196, rows = 100;
  const surface = fitSurface(p.field);
  const values = new Float64Array(cols * rows);
  for (let j = 0; j < rows; j++) {
    for (let i = 0; i < cols; i++) {
      values[j * cols + i] = surface(lon0 + i * dLon, lat0 - j * dLat);
    }
  }
  const levels = d3.range(1, p.cells).map(i => p.min + i * p.step);
  const contours = d3.contours().size([cols, rows]).thresholds(levels)(values);
  const path = d3.geoPath(d3.geoTransform({
    point(gx, gy) {
      this.stream.point(x(lon0 + (gx - 0.5) * dLon), y(lat0 - (gy - 0.5) * dLat));
    }
  }));
  const fieldG = map.append('g').attr('clip-path', 'url(#rect-' + p.id + ')')
    .append('g').attr('clip-path', 'url(#water-' + p.id + ')');
  fieldG.append('rect').attr('x', x(lon0)).attr('y', y(lat0))
    .attr('width', x(-34.78) - x(lon0)).attr('height', y(-8.072) - y(lat0))
    .attr('fill', cellColor(p, 0));
  fieldG.selectAll('path').data(contours).join('path')
    .attr('d', path)
    .attr('fill', (d, i) => cellColor(p, i + 1))
    .attr('stroke', '#15152a').attr('stroke-opacity', 0.75).attr('stroke-width', 0.55);

  // rivers and estuary
  map.selectAll('.estuary').data([estuaryUpper, estuaryLower]).join('polygon')
    .attr('points', toPts).attr('fill', '#fff').attr('stroke', '#555').attr('stroke-width', 0.8);
  const drawRiver = function(line, wide, narrow, dark, core) {
    map.append('path').attr('d', curve(line)).attr('fill', 'none').attr('stroke', dark).attr('stroke-width', wide);
    map.append('path').attr('d', curve(line)).attr('fill', 'none').attr('stroke', core || '#fff').attr('stroke-width', narrow);
  };
  drawRiver(riverMain, 4.6, 3.2, '#555');
  riverSide.forEach(l => drawRiver(l, 2.2, 1.1, '#666'));
  riverLower.forEach(l => drawRiver(l, 3.2, 2, '#555'));
  drawRiver(isthmusLine, 2.4, 1.2, '#777');
  drawRiver(reefLine, 2.1, 0.7, '#777', '#d8d8d8');
  breakwaters.forEach(l => {
    map.append('path').attr('d', polyline(l)).attr('fill', 'none').attr('stroke', '#222').attr('stroke-width', 1.1);
  });

  // contour labels
  p.labels.forEach(l => {
    map.append('text').text(l[0]).attr('font-size', 9.5).attr('text-anchor', 'middle').attr('dy', '0.35em')
      .attr('transform', 'translate(' + x(l[1]) + ',' + y(l[2]) + ') rotate(' + l[3] + ')')
      .style('fill', '#222');
  });

  // frame and axes
  g.append('rect').attr('x', p.left).attr('y', p.top).attr('width', p.right - p.left).attr('height', p.bottom - p.top)
    .attr('fill', 'none').attr('stroke', '#666').attr('stroke-width', 1.3);
  const fmt = d => d3.format('.2f')(d).replace('\u2212', '-');
  const styleAxis = sel => {
    sel.select('.domain').remove();
    sel.selectAll('.tick line').attr('stroke', '#777').attr('stroke-width', 1);
    sel.selectAll('.tick text').attr('font-size', 10.3).style('font-family', '"Liberation Sans", Arial, sans-serif').style('fill', '#333');
  };
  g.append('g').attr('transform', 'translate(0,' + p.bottom + ')')
    .call(d3.axisBottom(x).tickValues(lonTicks).tickSize(4).tickPadding(4).tickFormat(fmt)).call(styleAxis);
  g.append('g').attr('transform', 'translate(0,' + p.top + ')')
    .call(d3.axisTop(x).tickValues(lonTicks).tickSize(6).tickFormat('')).call(styleAxis);
  g.append('g').attr('transform', 'translate(' + p.left + ',0)')
    .call(d3.axisLeft(y).tickValues(latTicks).tickSize(5).tickPadding(4).tickFormat(fmt)).call(styleAxis);
  g.append('g').attr('transform', 'translate(' + p.right + ',0)')
    .call(d3.axisRight(y).tickValues(latTicks).tickSize(5).tickFormat('')).call(styleAxis);

  g.append('text').text('Longitude (°W)').attr('font-size', 10.4).attr('text-anchor', 'middle')
    .attr('x', x(-34.8425)).attr('y', p.bottom + 33.5);
  g.append('text').text('Latitude (°S)').attr('font-size', 10.4).attr('text-anchor', 'middle')
    .attr('transform', 'translate(' + (p.left - 37) + ',' + ((p.top + p.bottom) / 2 + 0) + ') rotate(-90)');

  g.append('text').text('Recife').attr('font-size', 10.7).attr('text-anchor', 'middle').attr('dy', '0.35em')
    .attr('x', x(-34.89)).attr('y', y(-8.0365));
  g.append('text').text('Atlantic Ocean').attr('font-size', 11).attr('text-anchor', 'middle').attr('dy', '0.35em')
    .attr('x', x(-34.8429)).attr('y', y(-8.0831));

  // scale bar
  g.append('rect').attr('x', x(-34.8247)).attr('y', y(-8.0835)).attr('width', x(-34.8143) - x(-34.8247)).attr('height', y(-8.0857) - y(-8.0835))
    .attr('fill', '#000').attr('stroke', '#444').attr('stroke-width', 0.7);
  g.append('rect').attr('x', x(-34.8143)).attr('y', y(-8.0835)).attr('width', x(-34.8039) - x(-34.8143)).attr('height', y(-8.0857) - y(-8.0835))
    .attr('fill', '#fff').attr('stroke', '#444').attr('stroke-width', 0.7);
  [[-34.8247, '0.0km'], [-34.8143, '1.1km'], [-34.8039, '2.2km']].forEach(t => {
    g.append('text').text(t[1]).attr('font-size', 10.7).attr('text-anchor', 'middle').attr('dy', '0.35em')
      .attr('x', x(t[0])).attr('y', y(-8.0876));
  });

  // north arrow
  const nx = x(-34.7783), ny = y(-8.02) ;
  g.append('polygon').attr('fill', '#000')
    .attr('points', [[nx, ny - 18], [nx - 4, ny - 12], [nx - 1.3, ny - 12], [nx - 1.3, ny - 9], [nx + 1.3, ny - 9], [nx + 1.3, ny - 12], [nx + 4, ny - 12]].map(d => d.join(',')).join(' '));
  g.append('text').text('N').attr('font-size', 17).attr('font-weight', 'bold').attr('text-anchor', 'middle')
    .attr('x', nx).attr('y', ny + 3).style('fill', '#000');

  // stations, RP2 and RP4 sit close together so their labels are pushed apart a little
  stationNames.forEach((name, i) => {
    const nudge = name === 'RP2' ? -2 : name === 'RP4' ? 2 : 0;
    g.append('text').text(name).attr('font-size', name.length > 2 ? 9.8 : 10.3).attr('text-anchor', 'middle')
      .attr('x', x(stationLon[i]) + nudge).attr('y', y(stationLat[i]) - 7)
      .style('fill', '#1f1f33');
    g.append('circle').attr('cx', x(stationLon[i])).attr('cy', y(stationLat[i])).attr('r', 3.9).attr('fill', '#000');
  });

  // colour bar
  const bx = d3.scaleLinear().domain([p.min, p.min + p.cells * p.step]).range([p.bar[0], p.bar[1]]);
  g.selectAll('.cell').data(d3.range(p.cells)).join('rect')
    .attr('x', i => bx(p.min + i * p.step)).attr('y', p.bar[2])
    .attr('width', (p.bar[1] - p.bar[0]) / p.cells).attr('height', p.bar[3] - p.bar[2])
    .attr('fill', i => cellColor(p, i)).attr('stroke', '#222').attr('stroke-width', 0.5);
  g.selectAll('.bar-label').data(p.legendTicks).join('text')
    .text(d => d3.format(p.fmt)(d)).attr('font-size', 10.5).attr('text-anchor', 'middle')
    .attr('x', d => bx(d)).attr('y', p.barLabelY);

  g.append('text').text(p.letter).attr('x', p.letterX).attr('y', p.letterY)
    .style('font-family', '"Open Sans", sans-serif').attr('font-size', 24).style('fill', '#111');
}

panels.forEach(drawPanel);
</script>
</body>
</html>
